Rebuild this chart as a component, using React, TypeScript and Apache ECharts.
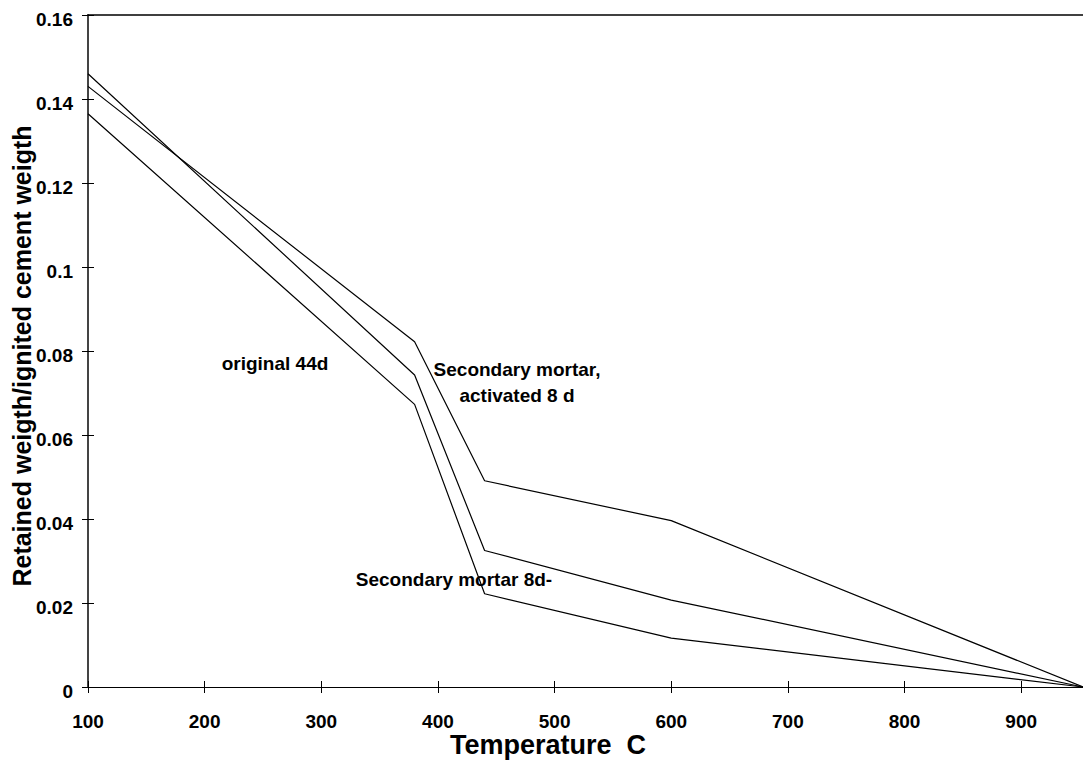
import React, { useEffect, useRef } from "react";
import * as echarts from "echarts";

const temperatures = [100, 380, 440, 600, 953];
const activated8d = [0.143, 0.0822, 0.0491, 0.0396, 0];
const secondary8d = [0.146, 0.0743, 0.0325, 0.0207, 0];
const original44d = [0.1365, 0.0673, 0.0222, 0.01165, 0];

const xTitle = "Temperature  C";
const yTitle = "Retained weigth/ignited cement weigth";
const FONT = "'Liberation Sans', Arial, sans-serif";

export default function App() {
  const ref = useRef<HTMLDivElement>(null);
  useEffect(() => {
    if (!ref.current) return;
    const chart = echarts.init(ref.current, null, { renderer: "svg" });
    const pair = (ys: number[]) => temperatures.map((t, i) => [t, ys[i]]);
    const lineSeries = (name: string, ys: number[]) => ({
      name,
      type: "line",
      data: pair(ys),
      showSymbol: false,
      symbol: "none",
      lineStyle: { color: "#000", width: 1.2 },
      xAxisIndex: 0,
      yAxisIndex: 0,
      z: 5,
    });
    const labelStyle = { fontSize: 19, fontWeight: "bold", color: "#000", fontFamily: FONT };
    chart.setOption({
      animation: false,
      backgroundColor: "#fff",
      grid: { left: 88, right: 0, top: 15, bottom: 78, containLabel: false },
      xAxis: [
        {
          type: "value", min: 100, max: 953, interval: 100, position: "bottom",
          axisLine: { show: true, lineStyle: { color: "#000", width: 1 } },
          axisTick: { show: true, inside: false, length: 6, lineStyle: { color: "#000" } },
          axisLabel: { ...labelStyle, margin: 25, showMaxLabel: false },
          splitLine: { show: false },
        },
        {
          type: "value", min: 100, max: 953, interval: 100, position: "bottom",
          axisLine: { show: false },
          axisTick: { show: true, inside: true, length: 6, lineStyle: { color: "#000" } },
          axisLabel: { show: false },
          splitLine: { show: false },
        },
        {
          type: "value", min: 100, max: 953, position: "top",
          axisLine: { show: true, lineStyle: { color: "#000", width: 1.5 } },
          axisTick: { show: false },
          axisLabel: { show: false },
          splitLine: { show: false },
        },
      ],
      yAxis: [
        {
          type: "value", min: 0, max: 0.16, interval: 0.02, position: "left",
          axisLine: { show: true, lineStyle: { color: "#444", width: 2 } },
          axisTick: { show: true, inside: false, length: 6, lineStyle: { color: "#000" } },
          axisLabel: { ...labelStyle, margin: 15, verticalAlign: "top", lineHeight: 8 },
          splitLine: { show: false },
        },
        {
          type: "value", min: 0, max: 0.16, interval: 0.02, position: "left",
          axisLine: { show: false },
          axisTick: { show: true, inside: true, length: 6, lineStyle: { color: "#000" } },
          axisLabel: { show: false },
          splitLine: { show: false },
        },
      ],
      series: [
        lineSeries("Secondary mortar, activated 8 d", activated8d),
        lineSeries("Secondary mortar 8d-", secondary8d),
        lineSeries("original 44d", original44d),
      ],
      graphic: [
        {
          type: "text", x: 275, y: 363,
          style: {
            text: "original 44d", font: `bold 19px ${FONT}`, fill: "#000",
            align: "center", verticalAlign: "middle",
          },
        },
        {
          type: "text", x: 517, y: 356,
          style: {
            text: "Secondary mortar,\nactivated 8 d", font: `bold 19px ${FONT}`, fill: "#000",
            align: "center", lineHeight: 26,
          },
        },
        {
          type: "text", x: 454, y: 579,
          style: {
            text: "Secondary mortar 8d-", font: `bold 19px ${FONT}`, fill: "#000",
            align: "center", verticalAlign: "middle",
          },
        },
        {
          type: "text", x: 548, y: 745,
          style: {
            text: xTitle, font: `bold 27px ${FONT}`, fill: "#000",
            align: "center", verticalAlign: "middle",
          },
        },
        {
          type: "text", x: 22, y: 356, rotation: Math.PI / 2,
          style: {
            text: yTitle, font: `bold 25px ${FONT}`, fill: "#000",
            align: "center", verticalAlign: "middle",
          },
        },
      ],
    });
    return () => chart.dispose();
  }, []);
  return (
    <div
      ref={ref}
      style={{ position: "absolute", left: 0, top: 0, width: 1083, height: 765 }}
    />
  );
}
